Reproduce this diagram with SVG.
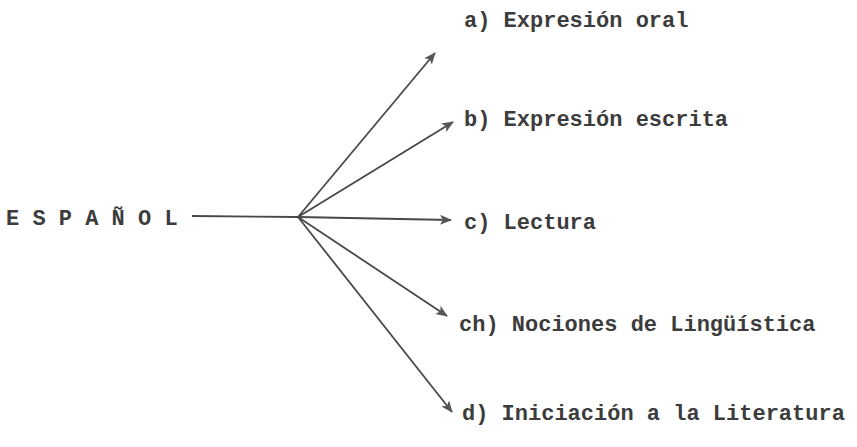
<svg xmlns="http://www.w3.org/2000/svg" width="857" height="447" viewBox="0 0 857 447">
<defs>
<marker id="ah" viewBox="0 0 12 10" refX="11" refY="5" markerWidth="12" markerHeight="10" markerUnits="userSpaceOnUse" orient="auto">
<path d="M0,0 L12,5 L0,10 L3,5 Z" fill="#555"/>
</marker>
<style>
.t{font-family:"Liberation Mono","Courier New",monospace;font-size:22px;font-weight:bold;fill:#3c3c3c}
.c{stroke:#484848;stroke-width:1.8;fill:none}
.a{marker-end:url(#ah)}
</style>
</defs>
<rect width="857" height="447" fill="#ffffff"/>
<g id="connectors">
<line class="c" x1="192" y1="216" x2="298" y2="217"/>
<line class="c a" x1="298" y1="217" x2="435" y2="53"/>
<line class="c a" x1="298" y1="217" x2="453" y2="122"/>
<line class="c a" x1="298" y1="217" x2="451" y2="220"/>
<line class="c a" x1="298" y1="217" x2="447" y2="316"/>
<line class="c a" x1="298" y1="217" x2="452" y2="412"/>
</g>
<g id="espanol"><text class="t" x="6" y="225">E S P A Ñ O L</text></g>
<g id="a"><text class="t" x="464" y="27">a) Expresión oral</text></g>
<g id="b"><text class="t" x="464" y="126">b) Expresión escrita</text></g>
<g id="c"><text class="t" x="464" y="229">c) Lectura</text></g>
<g id="ch"><text class="t" x="459" y="331">ch) Nociones de Lingüística</text></g>
<g id="d"><text class="t" x="462" y="420">d) Iniciación a la Literatura</text></g>
</svg>
